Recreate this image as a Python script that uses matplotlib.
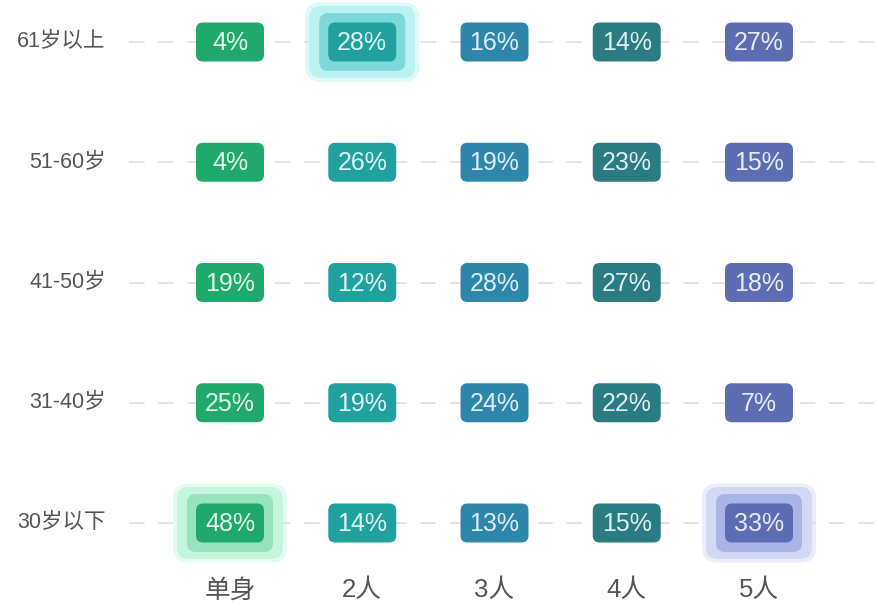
import matplotlib
matplotlib.use('Agg')
import matplotlib.pyplot as plt
from matplotlib.patches import FancyBboxPatch
import numpy as np

# digitos em Liberation Sans, chines cai no Noto CJK
plt.rcParams['font.family'] = ['Liberation Sans', 'Noto Sans CJK SC', 'DejaVu Sans']

# dados
faixas = ['30岁以下', '31-40岁', '41-50岁', '51-60岁', '61岁以上']   # de baixo para cima
familias = ['单身', '2人', '3人', '4人', '5人']
valores = np.array([
    [48, 14, 13, 15, 33],   # 30岁以下
    [25, 19, 24, 22, 7],    # 31-40岁
    [19, 12, 28, 27, 18],   # 41-50岁
    [4, 26, 19, 23, 15],    # 51-60岁
    [4, 28, 16, 14, 27],    # 61岁以上
])
destaques = [(0, 0), (4, 1), (0, 4)]   # (linha, coluna)

cores = ['#21a86c', '#20a19e', '#2e87aa', '#2a7b82', '#5c6eb1']
cor_texto = ['#dcf7ea', '#dcf6f5', '#dcecf5', '#dcefef', '#e6eafa']
brilho_ext = ['#c6f5de', '#b9f2f0', '#cfe3f0', '#cde6e8', '#d3d9f4']
brilho_int = ['#98e2bd', '#7dd9d8', '#9cc6de', '#9cc9cc', '#aab4e6']

W, H = 879, 612
fig = plt.figure(figsize=(W / 100, H / 100), dpi=100)
ax = fig.add_axes([0, 0, 1, 1])

dx, dy = 132.25, 120.25   # px por unidade
x0px, y0px = 230, 523     # centro da celula (0,0) em px a partir do topo
ax.set_xlim(-x0px / dx, (W - x0px) / dx)
ax.set_ylim(-(H - y0px) / dy, 4 + 42 / dy)
ax.axis('off')

asp = dx / dy

def caixa(xc, yc, wpx, hpx, rpx, cor, z, alpha=1.0):
    w = wpx / dx
    h = hpx / dy
    p = FancyBboxPatch((xc - w / 2, yc - h / 2), w, h,
                       boxstyle='round,pad=0,rounding_size=%f' % (rpx / dx),
                       mutation_aspect=asp, fc=cor, ec='none', zorder=z, alpha=alpha)
    ax.add_patch(p)

# linhas tracejadas
for i in range(len(faixas)):
    ax.plot([-0.76, 5.0], [i, i], color='#e4e4e4', lw=1.4, dashes=(8, 7), zorder=1)
    ax.text(-0.94, i, faixas[i], ha='right', va='center', fontsize=15.5, color='#555555')

for j in range(len(familias)):
    ax.text(j, -0.56, familias[j], ha='center', va='center', fontsize=18.5, color='#555555')

for i in range(len(faixas)):
    for j in range(len(familias)):
        if (i, j) in destaques:
            caixa(j, i, 114, 79, 15, brilho_ext[j], 2, alpha=0.45)
            caixa(j, i, 106, 72, 12, brilho_ext[j], 2.1)
            caixa(j, i, 86, 58, 9, brilho_int[j], 2.2)
        caixa(j, i, 68, 39, 7, cores[j], 3)
        ax.text(j, i - 0.01, '%d%%' % valores[i, j], ha='center', va='center',
                fontsize=18, color=cor_texto[j], zorder=4)

plt.savefig('out.png', dpi=100)
plt.close()
